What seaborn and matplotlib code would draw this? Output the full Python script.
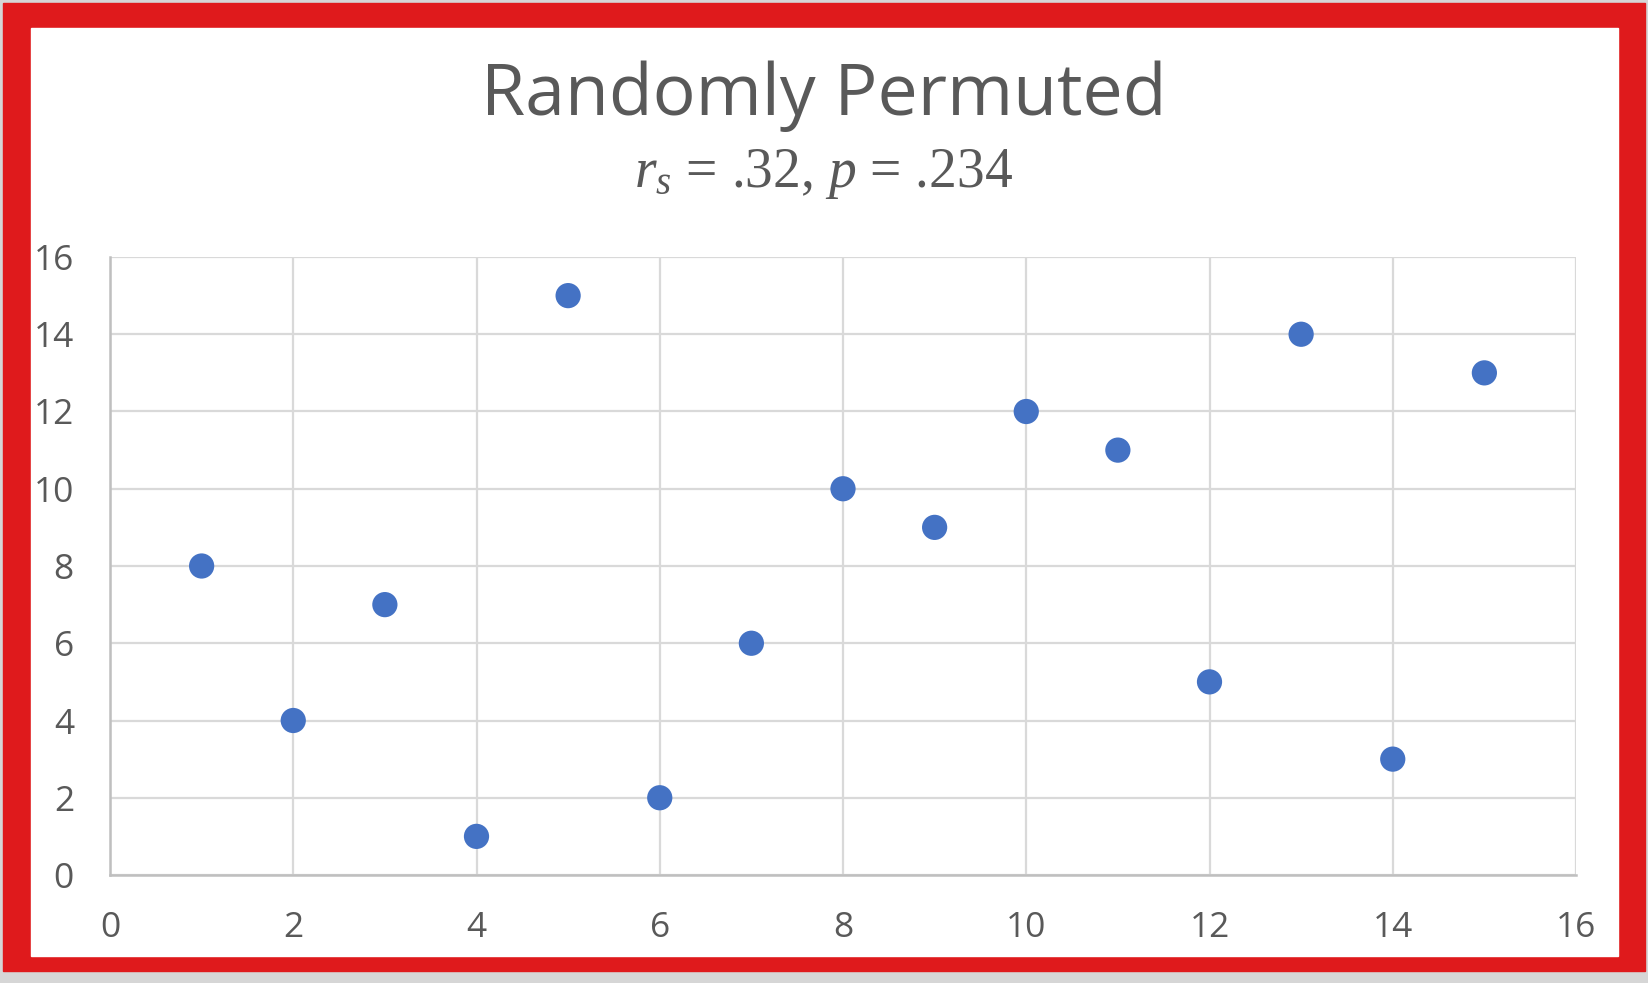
import numpy as np
import pandas as pd
import matplotlib
matplotlib.use("Agg")
import matplotlib.pyplot as plt
import seaborn as sns
from matplotlib.patches import Rectangle

# data
x_vals = [1, 2, 3, 4, 5, 6, 7, 8, 9, 10, 11, 12, 13, 14, 15]
y_vals = [8, 4, 7, 1, 15, 2, 6, 10, 9, 12, 11, 5, 14, 3, 13]
ticks = [0, 2, 4, 6, 8, 10, 12, 14, 16]
title = "Randomly Permuted"
subtitle = "$r_s$ = .32, $p$ = .234"

df = pd.DataFrame({"x": x_vals, "y": y_vals})

sns.set_theme(style="whitegrid")
plt.rcParams["font.family"] = ["Open Sans", "DejaVu Sans"]
plt.rcParams["mathtext.fontset"] = "custom"
plt.rcParams["mathtext.rm"] = "Liberation Serif"
plt.rcParams["mathtext.it"] = "Liberation Serif:italic"

W, H = 1648, 983
fig = plt.figure(figsize=(W / 100, H / 100), dpi=100)
fig.patch.set_facecolor("#D6D6D6")

# red frame with white inside
fig.patches.append(Rectangle((3 / W, 1 - 971 / H), 1642 / W, 968 / H,
                             transform=fig.transFigure, color="#DF1A1C", zorder=0))
fig.patches.append(Rectangle((31 / W, 1 - 956 / H), 1587 / W, 928 / H,
                             transform=fig.transFigure, color="white", zorder=0))

ax = fig.add_axes([110 / W, 1 - 875 / H, 1466 / W, 618 / H])
ax.set_zorder(2)
ax.set_facecolor("white")
sns.scatterplot(data=df, x="x", y="y", ax=ax, color="#4472C4", s=330,
                edgecolor="none", zorder=3, clip_on=False)

ax.set_xlim(0, 16)
ax.set_ylim(0, 16)
ax.set_xticks(ticks)
ax.set_yticks(ticks)
ax.set_xlabel("")
ax.set_ylabel("")
ax.grid(True, color="#D9D9D9", linewidth=1.6)
for side in ["top", "right"]:
    ax.spines[side].set_visible(False)
for side in ["left", "bottom"]:
    ax.spines[side].set_color("#BFBFBF")
    ax.spines[side].set_linewidth(1.8)
ax.tick_params(axis="both", length=0, labelsize=25.5, labelcolor="#595959")
ax.tick_params(axis="y", pad=26)
ax.tick_params(axis="x", pad=26)

fig.text(824 / W, 1 - 115 / H, title, ha="center", va="baseline",
         fontsize=51.5, color="#595959", zorder=3)
fig.text(824 / W, 1 - 187 / H, subtitle, ha="center", va="baseline",
         fontsize=40, color="#595959", family=["Liberation Serif"], zorder=3)

fig.savefig("out.png", dpi=100, facecolor=fig.get_facecolor())
